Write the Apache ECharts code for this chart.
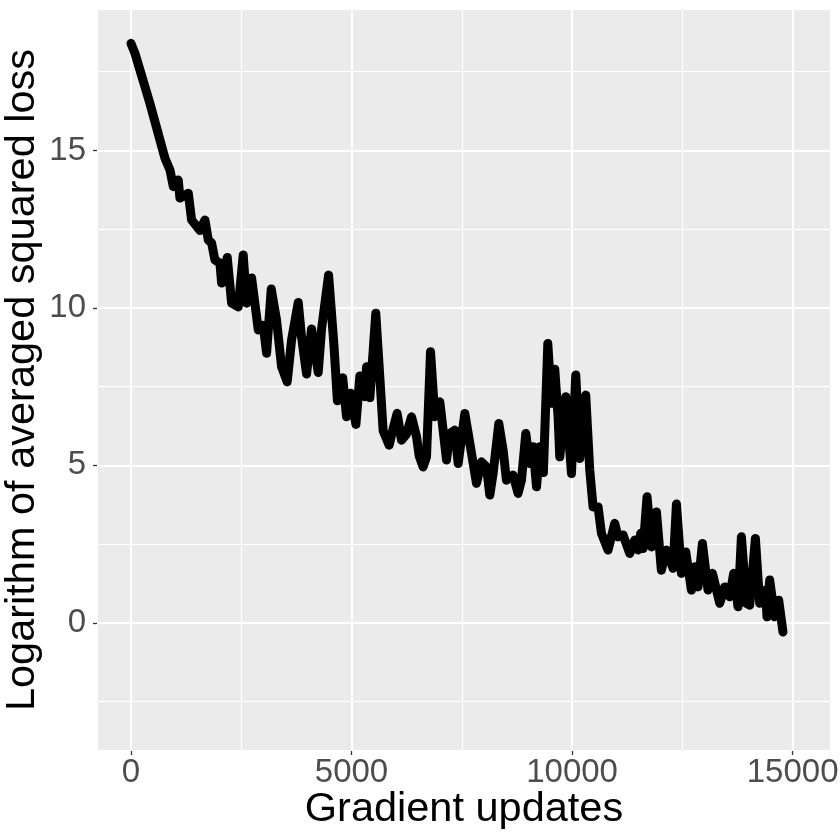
<!DOCTYPE html>
<html>
<head>
<meta charset="utf-8">
<script src="https://cdn.jsdelivr.net/npm/echarts@6/dist/echarts.min.js"></script>
<style>
html,body{margin:0;padding:0;background:#fff;}
#chart{width:840px;height:840px;}
</style>
</head>
<body>
<div id="chart"></div>
<script>
const updates = [0,91,204,317,430,544,657,771,884,960,1072,1110,1300,1375,1564,1677,1752,1828,1903,2017,2055,2183,2282,2432,2545,2621,2735,2848,2886,2999,3075,3180,3301,3414,3542,3641,3792,3867,3981,4094,4245,4321,4480,4600,4680,4800,4887,4980,5100,5189,5303,5341,5416,5550,5642,5717,5853,5950,6034,6134,6250,6361,6474,6534,6624,6700,6791,6889,7002,7154,7229,7342,7418,7569,7682,7833,7947,8060,8135,8210,8339,8437,8513,8663,8776,8853,8951,9042,9116,9194,9268,9350,9450,9533,9608,9683,9721,9857,9986,10084,10174,10310,10401,10476,10590,10666,10816,10967,11042,11156,11308,11421,11497,11557,11610,11700,11800,11913,12024,12139,12290,12366,12479,12577,12706,12780,12856,12955,13082,13182,13347,13460,13574,13664,13762,13839,13952,14027,14156,14253,14389,14419,14480,14593,14684,14781];
const logLoss = [18.40,18.08,17.55,17.02,16.49,15.91,15.33,14.75,14.38,13.85,14.06,13.49,13.64,12.79,12.46,12.79,12.16,12.06,11.52,11.42,10.79,11.60,10.15,10.03,11.68,10.15,10.95,9.72,9.30,9.45,8.56,10.60,9.61,8.13,7.65,8.98,10.17,9.08,7.90,9.33,7.95,9.33,11.04,8.85,7.05,7.78,6.54,7.29,6.30,7.84,7.18,8.13,7.15,9.83,7.80,6.10,5.64,6.20,6.65,5.80,6.00,6.54,5.91,5.30,4.95,5.27,8.61,6.54,7.02,5.17,6.01,6.12,5.06,6.65,5.70,4.43,5.11,4.95,4.06,4.74,6.33,5.48,4.53,4.69,4.11,4.53,6.01,5.06,5.59,4.32,5.59,4.77,8.87,6.97,8.05,6.54,5.27,7.18,4.74,7.87,5.22,7.23,4.85,3.68,3.68,2.84,2.31,3.16,2.73,2.79,2.20,2.63,2.31,2.84,2.36,4.00,2.41,3.52,1.67,2.31,1.73,3.77,1.57,2.25,1.04,1.78,1.14,2.52,1.04,1.57,0.62,1.14,0.83,1.57,0.51,2.73,0.62,0.56,2.68,0.62,1.04,0.19,1.36,0.19,0.72,-0.29];
const xTitle = 'Gradient updates';
const yTitle = 'Logarithm of averaged squared loss';

const seriesData = updates.map((u, i) => [u, logLoss[i]]);
const FONT = 'Liberation Sans';
const plain = v => String(v);

const chart = echarts.init(document.getElementById('chart'), null, {renderer: 'canvas'});
chart.setOption({
  animation: false,
  backgroundColor: '#ffffff',
  grid: {left: 97, right: 9, top: 9, bottom: 89, show: true, backgroundColor: '#EBEBEB', borderWidth: 0,
         containLabel: false, outerBoundsMode: 'none'},
  xAxis: {
    type: 'value', min: -770, max: 15870, splitNumber: 3,
    name: xTitle, nameLocation: 'middle', nameGap: 37.5, nameMoveOverlap: false,
    nameTextStyle: {fontFamily: FONT, fontSize: 41.5, color: '#000'},
    axisLine: {show: false, onZero: false},
    axisTick: {show: true, length: 4, lineStyle: {color: '#333333', width: 1.3}},
    axisLabel: {fontFamily: FONT, fontSize: 33, color: '#4D4D4D', margin: 5, showMinLabel: false, showMaxLabel: false, formatter: plain},
    splitLine: {show: true, lineStyle: {color: '#ffffff', width: 2}},
    minorTick: {show: false, splitNumber: 2},
    minorSplitLine: {show: true, lineStyle: {color: '#ffffff', width: 1}}
  },
  yAxis: {
    type: 'value', min: -4.07, max: 19.49, splitNumber: 5,
    name: yTitle, nameLocation: 'middle', nameGap: 53.5, nameMoveOverlap: false,
    nameTextStyle: {fontFamily: FONT, fontSize: 41.5, color: '#000'},
    axisLine: {show: false, onZero: false},
    axisTick: {show: true, length: 4, lineStyle: {color: '#333333', width: 1.3}},
    axisLabel: {fontFamily: FONT, fontSize: 33, color: '#4D4D4D', margin: 11, showMinLabel: false, showMaxLabel: false, formatter: plain},
    splitLine: {show: true, lineStyle: {color: '#ffffff', width: 2}},
    minorTick: {show: false, splitNumber: 2},
    minorSplitLine: {show: true, lineStyle: {color: '#ffffff', width: 1}}
  },
  series: [{
    type: 'line',
    data: seriesData,
    showSymbol: false,
    symbol: 'none',
    lineStyle: {color: '#000000', width: 9, cap: 'round', join: 'round'},
    z: 3
  }]
});
</script>
</body>
</html>
